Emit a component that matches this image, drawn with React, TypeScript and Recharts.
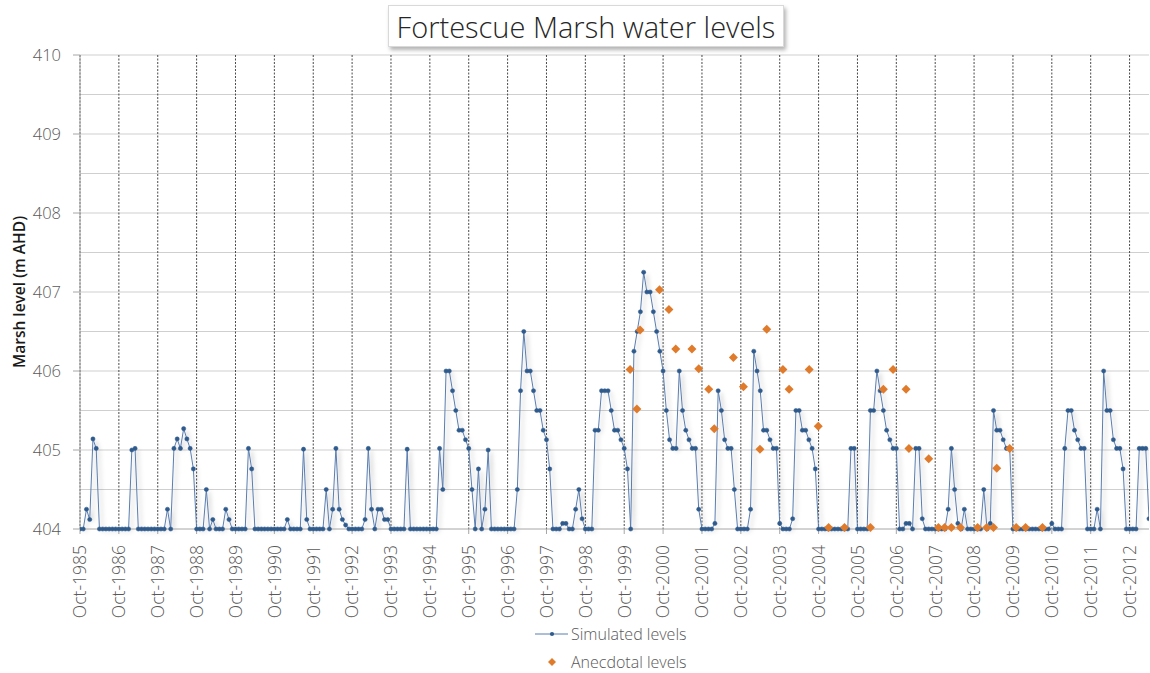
import { ComposedChart, Line, Scatter, XAxis, YAxis, CartesianGrid } from 'recharts';

// monthly simulated marsh level, starting Oct-1985 (m AHD)
const simulated: number[] = [
  // 1985-86
  404, 404, 404.25, 404.12, 405.14, 405.02, 404, 404, 404, 404, 404, 404,
  // 1986-87
  404, 404, 404, 404, 405, 405.02, 404, 404, 404, 404, 404, 404,
  // 1987-88
  404, 404, 404, 404.25, 404, 405.02, 405.14, 405.02, 405.27, 405.14, 405.02, 404.76,
  // 1988-89
  404, 404, 404, 404.5, 404, 404.12, 404, 404, 404, 404.25, 404.12, 404,
  // 1989-90
  404, 404, 404, 404, 405.02, 404.76, 404, 404, 404, 404, 404, 404,
  // 1990-91
  404, 404, 404, 404, 404.12, 404, 404, 404, 404, 405.01, 404.12, 404,
  // 1991-92
  404, 404, 404, 404, 404.5, 404, 404.25, 405.02, 404.25, 404.12, 404.05, 404,
  // 1992-93
  404, 404, 404, 404, 404.12, 405.02, 404.25, 404, 404.25, 404.25, 404.12, 404.12,
  // 1993-94
  404, 404, 404, 404, 404, 405.01, 404, 404, 404, 404, 404, 404,
  // 1994-95
  404, 404, 404, 405.02, 404.5, 406, 406, 405.75, 405.5, 405.25, 405.25, 405.13,
  // 1995-96
  405.02, 404.5, 404, 404.76, 404, 404.25, 405, 404, 404, 404, 404, 404,
  // 1996-97
  404, 404, 404, 404.5, 405.75, 406.5, 406, 406, 405.75, 405.5, 405.5, 405.25,
  // 1997-98
  405.13, 404.76, 404, 404, 404, 404.07, 404.07, 404, 404, 404.25, 404.5, 404.13,
  // 1998-99
  404, 404, 404, 405.25, 405.25, 405.75, 405.75, 405.75, 405.5, 405.25, 405.25, 405.13,
  // 1999-00
  405.02, 404.76, 404, 406.25, 406.5, 406.75, 407.25, 407, 407, 406.75, 406.5, 406.25,
  // 2000-01
  406, 405.5, 405.13, 405.02, 405.02, 406, 405.5, 405.25, 405.13, 405.02, 405.02, 404.25,
  // 2001-02
  404, 404, 404, 404, 404.07, 405.75, 405.5, 405.13, 405.02, 405.02, 404.5, 404,
  // 2002-03
  404, 404, 404, 404.25, 406.25, 406, 405.75, 405.25, 405.25, 405.13, 405.02, 405.02,
  // 2003-04
  404.07, 404, 404, 404, 404.13, 405.5, 405.5, 405.25, 405.25, 405.13, 405.02, 404.76,
  // 2004-05
  404, 404, 404, 404, 404, 404, 404, 404, 404, 404, 405.02, 405.02,
  // 2005-06
  404, 404, 404, 404, 405.5, 405.5, 406, 405.75, 405.5, 405.25, 405.13, 405.02,
  // 2006-07
  405.02, 404, 404, 404.07, 404.07, 404, 405.02, 405.02, 404.13, 404, 404, 404,
  // 2007-08
  404, 404, 404, 404, 404.25, 405.02, 404.5, 404.07, 404, 404.25, 404, 404,
  // 2008-09
  404, 404, 404, 404.5, 404, 404.07, 405.5, 405.25, 405.25, 405.13, 405.02, 405.02,
  // 2009-10
  404, 404, 404, 404, 404, 404, 404, 404, 404, 404, 404, 404,
  // 2010-11
  404.07, 404, 404, 404, 405.02, 405.5, 405.5, 405.25, 405.13, 405.02, 405.02, 404,
  // 2011-12
  404, 404, 404.25, 404, 406, 405.5, 405.5, 405.13, 405.02, 405.02, 404.76, 404,
  // 2012-13
  404, 404, 404, 405.02, 405.02, 405.02, 404.13,
];

// anecdotal observations: months since Oct-1985, level
const anecdotalMonth = [
  169.8, 171.9, 172.9, 178.9, 181.8, 183.9, 188.9, 191, 194.1, 195.8,
  201.7, 204.8, 209.9, 212, 217, 218.9, 225.1, 227.9, 231.1, 236,
  244, 248, 251, 255, 255.9, 262, 265, 266.9, 269, 271.8,
  277.1, 279.9, 282, 283, 287, 289, 291.9, 297.1,
];
const anecdotalLevel = [
  406.02, 405.52, 406.52, 407.03, 406.78, 406.28, 406.28, 406.03, 405.77, 405.27,
  406.17, 405.8, 405.01, 406.53, 406.02, 405.77, 406.02, 405.3, 404.02, 404.02,
  404.02, 405.77, 406.02, 405.77, 405.02, 404.89, 404.02, 404.02, 404.02, 404.02,
  404.02, 404.02, 404.02, 404.77, 405.02, 404.02, 404.02, 404.02,
];

const startYear = 1985;
const tickYears = Array.from({ length: 28 }, (_, k) => startYear + k);
const yTicks = [404, 405, 406, 407, 408, 409, 410];
const yGrid = [404.5, 405, 405.5, 406, 406.5, 407, 407.5, 408, 408.5, 409, 409.5, 410];

const simData = simulated.map((sim, m) => ({ m, sim }));
const anecData = anecdotalMonth.map((m, k) => ({ m, anec: anecdotalLevel[k] }));
const xTicks = tickYears.map((y) => (y - startYear) * 12);

const FONT = '"Open Sans", "Segoe UI", sans-serif';
const GREY = '#595959';

const XTick = ({ x, y, payload }: any) => (
  <text
    transform={`translate(${x},${y + 9}) rotate(-90)`}
    textAnchor="end"
    dy="0.36em"
    fontSize={17.5}
    fontWeight={300}
    fontFamily={FONT}
    fill={GREY}
  >
    {`Oct-${startYear + payload.value / 12}`}
  </text>
);

const Diamond = ({ cx, cy }: any) => (
  <path d={`M${cx},${cy - 4.5}L${cx + 4.5},${cy}L${cx},${cy + 4.5}L${cx - 4.5},${cy}Z`} fill="#e07b2b" />
);

export default function App() {
  return (
    <div style={{ position: 'absolute', left: 0, top: 0, width: 1150, height: 673, background: '#fff', fontFamily: FONT }}>
      <style>{'.sim-line .recharts-line-curve{filter:url(#lineShadow)}'}</style>
      <ComposedChart
        width={1150}
        height={673}
        data={simData}
        margin={{ top: 55, right: 1, bottom: 0, left: 0 }}
      >
        <defs>
          <filter id="lineShadow" x="-5%" y="-20%" width="110%" height="140%">
            <feDropShadow dx="3" dy="2" stdDeviation="2" floodColor="#000" floodOpacity="0.25" />
          </filter>
        </defs>
        <CartesianGrid horizontal vertical={false} horizontalValues={yGrid} stroke="#cfcfcf" />
        <CartesianGrid horizontal={false} vertical verticalValues={xTicks} stroke="#4a4a4a" strokeDasharray="2 1.5" />
        <XAxis
          type="number"
          dataKey="m"
          domain={[0, 330]}
          ticks={xTicks}
          interval={0}
          allowDataOverflow
          height={144}
          tick={<XTick />}
          tickSize={5}
          stroke="#a6a6a6"
        />
        <YAxis
          type="number"
          domain={[404, 410]}
          ticks={yTicks}
          width={80}
          tickSize={7}
          tickMargin={12}
          stroke="#a6a6a6"
          tick={{ fontSize: 16.5, fontWeight: 300, fontFamily: FONT, fill: GREY }}
          label={{
            content: ({ viewBox }: any) => (
              <text
                transform={`translate(19,${viewBox.y + viewBox.height / 2}) rotate(-90)`}
                textAnchor="middle"
                dy="0.36em"
                fontSize={15.5}
                fontWeight={600}
                fontFamily={FONT}
                fill="#1a1a1a"
              >
                Marsh level (m AHD)
              </text>
            ),
          }}
        />
        <Line
          className="sim-line"
          type="linear"
          dataKey="sim"
          stroke="#5a7db0"
          strokeWidth={1}
          dot={{ r: 2.1, fill: '#2f5a8c', stroke: '#2f5a8c', strokeWidth: 0.5 }}
          isAnimationActive={false}
        />
        <Scatter data={anecData} dataKey="anec" shape={<Diamond />} isAnimationActive={false} />
      </ComposedChart>

      <div
        style={{
          position: 'absolute',
          left: 388,
          top: 5,
          width: 394,
          height: 40,
          background: '#fff',
          border: '1px solid #d9d9d9',
          boxShadow: '2px 3px 4px rgba(0,0,0,0.3)',
          display: 'flex',
          alignItems: 'center',
          justifyContent: 'center',
          fontSize: 29,
          fontWeight: 300,
          color: '#262626',
          whiteSpace: 'nowrap',
        }}
      >
        Fortescue Marsh water levels
      </div>

      <div style={{ position: 'absolute', left: 533, top: 620, fontSize: 16, fontWeight: 300, color: GREY, lineHeight: '28px' }}>
        <div style={{ display: 'flex', alignItems: 'center' }}>
          <svg width={38} height={28}>
            <line x1={2} y1={14} x2={35} y2={14} stroke="#5a7db0" strokeWidth={1} />
            <circle cx={19} cy={14} r={2.1} fill="#2f5a8c" />
          </svg>
          <span>Simulated levels</span>
        </div>
        <div style={{ display: 'flex', alignItems: 'center' }}>
          <svg width={38} height={28}>
            <path d="M19,10L23,14L19,18L15,14Z" fill="#e07b2b" />
          </svg>
          <span>Anecdotal levels</span>
        </div>
      </div>
    </div>
  );
}
